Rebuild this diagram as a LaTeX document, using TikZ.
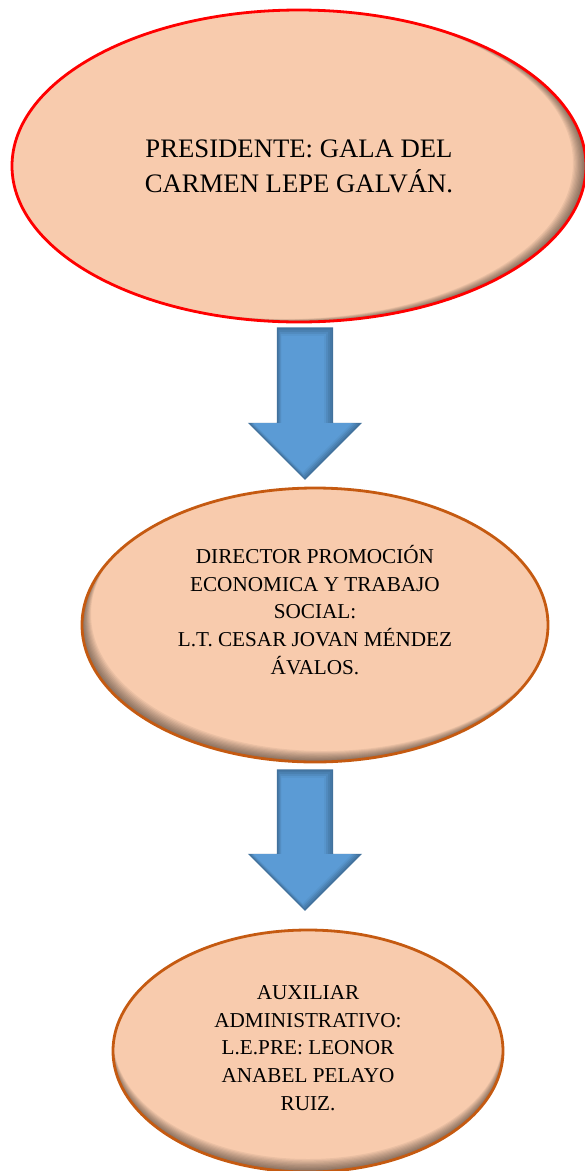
\documentclass[tikz,border=0pt]{standalone}
\usepackage{fontspec}
\setmainfont{Liberation Serif}
\usetikzlibrary{shapes,arrows,fit,calc,positioning}

\definecolor{peach}{HTML}{F8CBAD}
\definecolor{rustline}{HTML}{C55A11}
\definecolor{arrowfill}{HTML}{5B9BD5}
\definecolor{arrowline}{HTML}{41719C}

\tikzset{
  orgbox/.style={ellipse, draw=#1, line width=2.8pt, fill=peach, inner sep=0pt},
  innershade/.style 2 args={path picture={
      \foreach \k in {1,...,10}{
        \fill[black, opacity=0.055, even odd rule]
          let \p1=($(path picture bounding box.north east)-(path picture bounding box.center)$) in
          (path picture bounding box.south west) rectangle (path picture bounding box.north east)
          ([shift={({\k*#1*1pt},{\k*#2*1pt})}]path picture bounding box.center)
          ellipse [x radius=\x1, y radius=\y1];
      }}},
  orgtext/.style={align=center, inner sep=0pt, text=black},
  bigtext/.style={orgtext, font=\fontsize{26.7}{35}\selectfont},
  smalltext/.style={orgtext, font=\fontsize{21.2}{27.8}\selectfont},
  downarrow/.style={single arrow, rotate=-90, anchor=tail,
    single arrow head extend=28pt, single arrow tip angle=90,
    minimum width=110pt, inner xsep=0pt, inner ysep=27pt, outer sep=0pt},
  arrowlayer/.style={downarrow, draw=none,
    minimum width={110pt-2*#1*1pt}, inner ysep={27pt-#1*1pt}}
}

\begin{document}
\begin{tikzpicture}[x=1pt,y=-1pt]
  \useasboundingbox (0,0) rectangle (585,1171);

  % presidente
  \node[orgbox=red, innershade={-1.3}{0.3}, minimum width=574pt, minimum height=312pt]
    (pres) at (299,166) {};
  \node[bigtext] (prestext) at (pres.center)
    {PRESIDENTE: GALA DEL\\CARMEN LEPE GALVÁN.};

  % director
  \node[orgbox=rustline, innershade={0.9}{1.1}, minimum width=466pt, minimum height=274pt]
    (dir) at (315,625) {};
  \node[smalltext] (dirtext) at ([yshift=15pt]dir.center)
    {DIRECTOR PROMOCIÓN\\ECONOMICA Y TRABAJO\\SOCIAL:\\L.T. CESAR JOVAN MÉNDEZ\\ÁVALOS.};

  % auxiliar
  \node[orgbox=rustline, innershade={0}{1.3}, minimum width=390pt, minimum height=242pt]
    (aux) at (308,1051) {};
  \node[smalltext] (auxtext) at ([yshift=3pt]aux.center)
    {AUXILIAR\\ADMINISTRATIVO:\\L.E.PRE: LEONOR\\ANABEL PELAYO\\RUIZ.};

  % flechas (capas para el bisel)
  \node[downarrow, draw=arrowline, line width=1.2pt, fill=arrowline!85!arrowfill,
    minimum height=151pt] (arr1) at (305,328) {};
  \node[downarrow, draw=arrowline, line width=1.2pt, fill=arrowline!85!arrowfill,
    minimum height=140pt] (arr2) at (305,770) {};
  \foreach \d/\c in {1.5/65, 3/40, 4.5/15, 6/0}{
    \node[arrowlayer=\d, fill=arrowline!\c!arrowfill,
      minimum height={151pt-2.41*\d*1pt}] (arr1-\d) at (305-0.4*\d,328+1.3*\d) {};
    \node[arrowlayer=\d, fill=arrowline!\c!arrowfill,
      minimum height={140pt-2.41*\d*1pt}] (arr2-\d) at (305-0.4*\d,770+1.3*\d) {};
  }
\end{tikzpicture}
\end{document}
